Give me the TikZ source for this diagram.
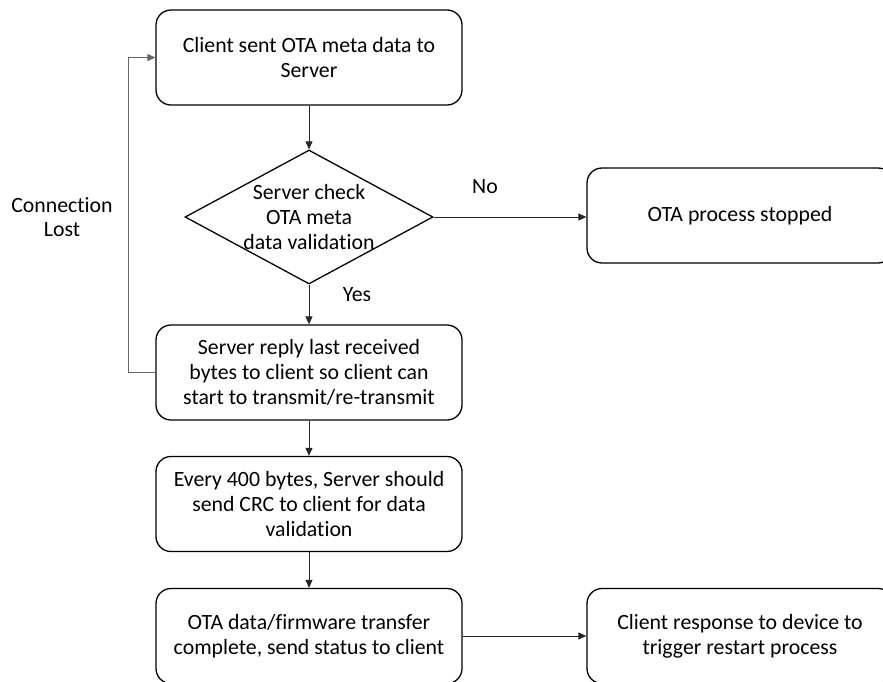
\documentclass[tikz,border=0pt]{standalone}
\usepackage{fontspec}
\setmainfont{Carlito}[Ligatures={NoCommon}]
\usetikzlibrary{shapes.geometric,arrows.meta}
\begin{document}
\begin{tikzpicture}[x=1pt,y=-1pt,
  font=\fontsize{21.8pt}{24.8pt}\selectfont,
  box/.style={draw=black,line width=1.3pt,rounded corners=15pt,minimum width=306pt,minimum height=95pt,align=center,inner sep=0pt},
  dec/.style={draw=black,line width=1.3pt,diamond,aspect=1.85,minimum width=248pt,minimum height=134pt,inner sep=0pt},
  conn/.style={draw=black!85,line width=1pt,-{Triangle[length=8pt,width=7pt]}},
  lbl/.style={align=center,inner sep=0pt}]
\clip (0,0) rectangle (883,681);
\fill[white] (0,0) rectangle (883,681);
\node[box] (b1) at (309,57.5) {Client sent OTA meta data to\\Server};
\node[dec,label={[lbl]center:Server check\\OTA meta\\data validation}] (d) at (309,217) {};
\node[box] (stop) at (740,215.5) {OTA process stopped};
\node[box] (b3) at (309,372.5) {Server reply last received\\bytes to client so client can\\start to transmit/re-transmit};
\node[box] (b4) at (309,504) {Every 400 bytes, Server should\\send CRC to client for data\\validation};
\node[box] (b5) at (309,636) {OTA data/firmware transfer\\complete, send status to client};
\node[box] (b6) at (740,636) {Client response to device to\\trigger restart process};
\node[lbl] (no) at (485,187) {No};
\node[lbl] (yes) at (357,295) {Yes};
\node[lbl] (cl) at (62,217) {Connection\\Lost};
\draw[conn] (b1) -- (d);
\draw[conn] (d.east) -- (d.east -| stop.west);
\draw[conn] (d) -- (b3);
\draw[conn] (b3) -- (b4);
\draw[conn] (b4) -- (b5);
\draw[conn] (b5) -- (b6);
\coordinate (lx) at (128,0);
\draw[conn,draw=black!60] (b3.west) -| (lx |- b1.west) -- (b1.west);
\end{tikzpicture}
\end{document}
